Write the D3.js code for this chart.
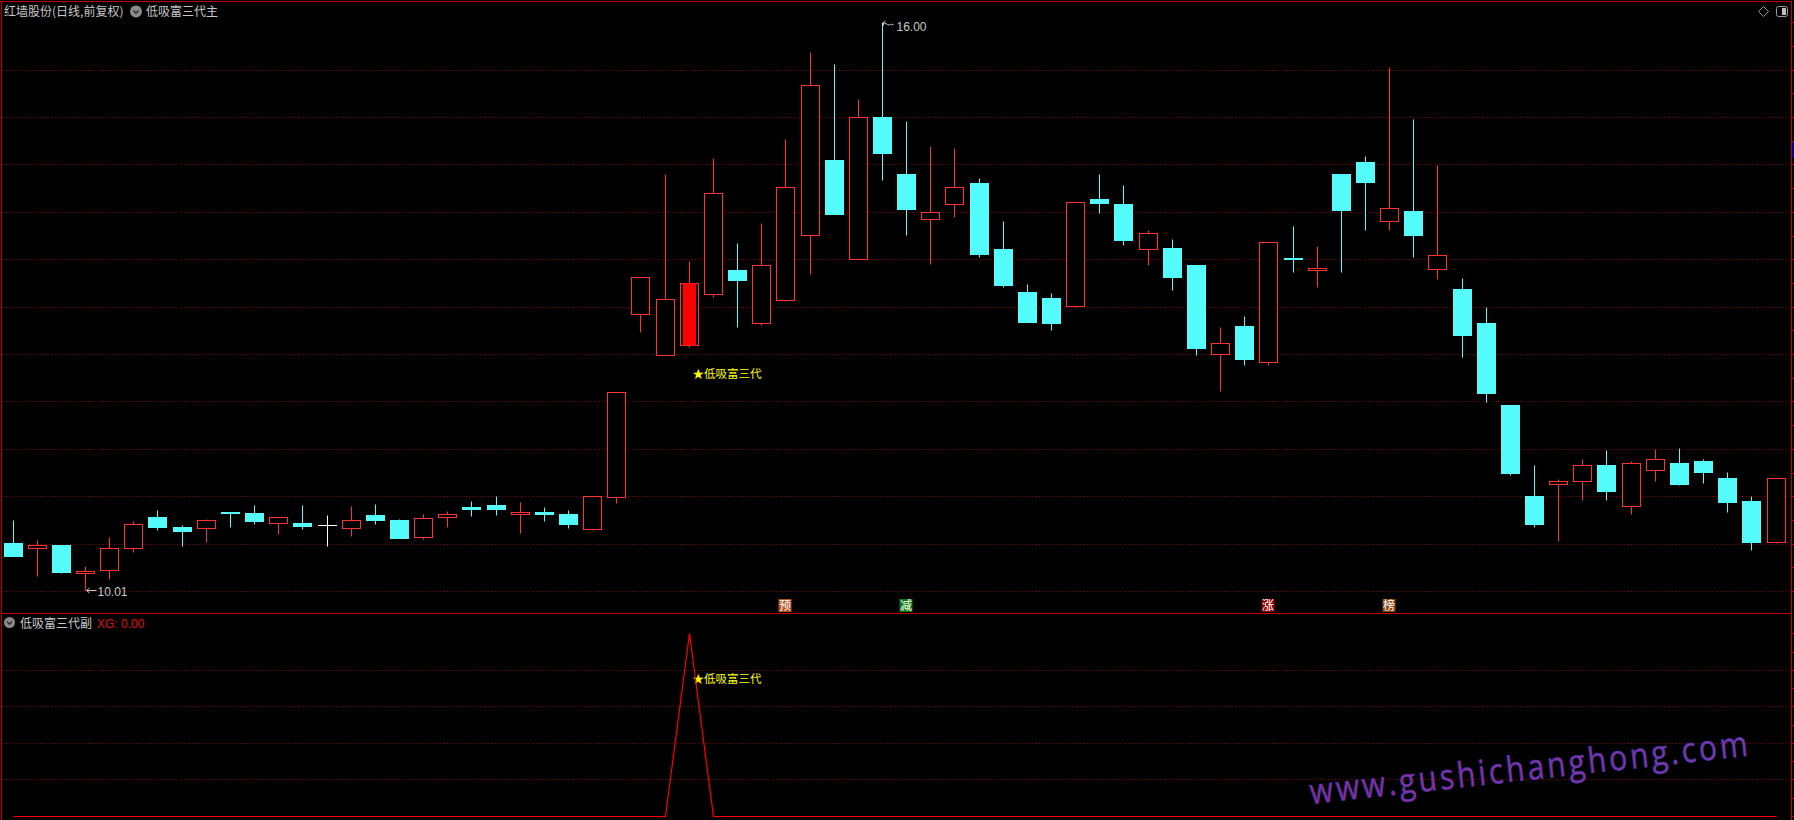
<!DOCTYPE html>
<html><head><meta charset="utf-8">
<script src="https://cdn.jsdelivr.net/npm/d3@7/dist/d3.min.js"></script>
<style>
html,body{margin:0;padding:0;background:#000;overflow:hidden}
svg{display:block}
</style></head><body>
<svg id="c" width="1794" height="820"></svg>
<script>
// ---- data (daily K-line, 74 bars) ----
const openP  = [10.51,10.45,10.49,10.19,10.22,10.45,10.78,10.68,10.66,10.83,10.82,10.72,10.72,10.70,10.66,10.80,10.75,10.57,10.78,10.89,10.91,10.81,10.83,10.81,10.65,10.99,12.92,12.49,12.60,13.13,13.39,12.83,13.07,13.76,14.55,13.50,15.00,14.40,13.92,14.08,14.30,13.61,13.15,13.09,13.01,14.14,14.08,13.61,13.62,13.44,12.50,12.80,12.42,13.51,13.39,14.40,14.53,13.90,14.01,13.40,13.19,12.83,11.96,11.00,11.13,11.16,11.33,10.90,11.28,11.35,11.37,11.19,10.95,10.52];
const highP  = [10.75,10.54,10.49,10.26,10.57,10.74,10.85,10.70,10.76,10.83,10.91,10.78,10.91,10.80,10.90,10.92,10.76,10.81,10.84,10.95,11.00,10.94,10.89,10.85,11.00,12.10,13.31,14.40,13.48,14.57,13.67,13.88,14.77,15.69,15.56,15.19,16.00,14.96,14.69,14.67,14.36,13.90,13.24,13.14,14.10,14.40,14.28,13.81,13.71,13.44,12.79,12.90,13.68,13.85,13.64,14.40,14.59,15.53,14.98,14.49,13.30,13.00,11.96,11.33,11.18,11.39,11.49,11.37,11.50,11.51,11.39,11.26,11.00,11.19];
const lowP   = [10.37,10.16,10.19,10.01,10.13,10.41,10.64,10.47,10.52,10.67,10.71,10.60,10.65,10.47,10.58,10.71,10.56,10.55,10.67,10.79,10.80,10.61,10.74,10.66,10.64,10.93,12.73,12.49,12.57,13.10,12.79,12.81,13.06,13.34,13.98,13.50,14.34,13.76,13.45,13.95,13.52,13.21,12.84,12.75,13.00,13.99,13.65,13.44,13.17,12.49,12.11,12.38,12.38,13.36,13.21,13.37,13.81,13.81,13.52,13.29,12.47,11.99,11.22,10.67,10.53,10.96,10.96,10.81,11.16,11.12,11.14,10.83,10.43,10.51];
const closeP = [10.37,10.49,10.20,10.21,10.45,10.71,10.67,10.63,10.75,10.82,10.74,10.78,10.69,10.70,10.75,10.75,10.56,10.77,10.81,10.87,10.87,10.83,10.81,10.71,11.00,12.10,13.31,13.08,13.25,14.20,13.28,13.44,14.26,15.34,13.98,15.00,14.62,14.03,14.00,14.26,13.56,13.23,12.84,12.83,14.10,14.09,13.70,13.78,13.31,12.56,12.62,12.45,13.68,13.50,13.41,14.02,14.31,14.04,13.76,13.54,12.70,12.09,11.25,10.71,11.16,11.33,11.06,11.35,11.39,11.13,11.26,10.94,10.52,11.19];
// sub indicator XG (低吸富三代副)
const xgValues = [0,0,0,0,0,0,0,0,0,0,0,0,0,0,0,0,0,0,0,0,0,0,0,0,0,0,0,0,1,0,0,0,0,0,0,0,0,0,0,0,0,0,0,0,0,0,0,0,0,0,0,0,0,0,0,0,0,0,0,0,0,0,0,0,0,0,0,0,0,0,0,0,0,0];
// price grid / ticks
const priceGrid = [10.0,10.5,11.0,11.5,12.0,12.5,13.0,13.5,14.0,14.5,15.0,15.5];
const subGrid = [0.2,0.4,0.6,0.8];
// signal tags under bars
const tagIndex = [32,37,52,57];
const tagText  = ["预","减","涨","榜"];
const tagColor = ["#B4501E","#0A7A0A","#8B0000","#8B4513"];
const titleMain = "红墙股份(日线,前复权)";
const titleInd  = "低吸富三代主";
const titleSub  = "低吸富三代副";
const signalLabel = "★低吸富三代";
const watermark = "www.gushichanghong.com";

// ---- drawing ----
const svg = d3.select("#c");
const CJK = "'Noto Sans CJK SC','Noto Sans',sans-serif";
const NUM = "'Liberation Sans',Arial,sans-serif";
const idx = d3.range(openP.length);
const x = d3.scaleBand().domain(idx).range([0.5,1787.6]).paddingInner(0.22).paddingOuter(0.11);
const y = d3.scaleLinear().domain([10,16]).range([591,22.2]);
const ys = d3.scaleLinear().domain([0,1]).range([816,633.3]);
const cx = i => Math.round(x(i) + x.bandwidth()/2) + 0.5;
const py = v => Math.round(y(v)) + 0.5;

svg.append("rect").attr("width",1794).attr("height",820).attr("fill","#000");

const defs = svg.append("defs");
const grad = defs.append("linearGradient").attr("id","wm").attr("x1","0").attr("x2","1").attr("y1","0").attr("y2","0");
grad.append("stop").attr("offset","0").attr("stop-color","#952A92");
grad.append("stop").attr("offset","1").attr("stop-color","#7A38AA");

// grid main
svg.append("g").selectAll("line").data(priceGrid).join("line")
  .attr("x1",3).attr("x2",1789).attr("y1",d=>py(d)).attr("y2",d=>py(d))
  .attr("stroke","#A00000").attr("stroke-dasharray","1,2.7");
// grid sub
svg.append("g").selectAll("line").data(subGrid).join("line")
  .attr("x1",3).attr("x2",1789).attr("y1",d=>Math.round(ys(d))+0.5).attr("y2",d=>Math.round(ys(d))+0.5)
  .attr("stroke","#A00000").attr("stroke-dasharray","1,2.7");

// frame
const frame = svg.append("g").attr("stroke","#C00000").attr("stroke-width",1);
frame.append("line").attr("x1",0).attr("x2",1792).attr("y1",1.5).attr("y2",1.5);
frame.append("line").attr("x1",1.5).attr("x2",1.5).attr("y1",1).attr("y2",820);
frame.append("line").attr("x1",1791.5).attr("x2",1791.5).attr("y1",1).attr("y2",820);
frame.append("line").attr("x1",1.5).attr("x2",1792).attr("y1",613.5).attr("y2",613.5);
// right axis ticks
frame.append("g").selectAll("line").data(d3.range(10,16.001,0.25)).join("line")
  .attr("x1",1791.5).attr("x2",1794).attr("y1",d=>py(d)).attr("y2",d=>py(d));
frame.append("g").selectAll("line").data(d3.range(0,1.001,0.1)).join("line")
  .attr("x1",1791.5).attr("x2",1794).attr("y1",d=>Math.round(ys(d))+0.5).attr("y2",d=>Math.round(ys(d))+0.5);
svg.append("rect").attr("x",1792).attr("y",142).attr("width",2).attr("height",16).attr("fill","#000090");

// candles
const UP="#FF3232", DN="#54FCFC", EQ="#FFFFFF";
const cg = svg.append("g");
idx.forEach(i=>{
  const o=openP[i], c=closeP[i], h=highP[i], l=lowP[i];
  const X=cx(i);
  if (c>o){
    const top=py(c), bot=py(o);
    cg.append("line").attr("x1",X).attr("x2",X).attr("y1",py(h)).attr("y2",top).attr("stroke",UP);
    cg.append("line").attr("x1",X).attr("x2",X).attr("y1",bot).attr("y2",py(l)).attr("stroke",UP);
    cg.append("rect").attr("x",X-9).attr("y",top).attr("width",18).attr("height",Math.max(bot-top,1))
      .attr("fill","#000").attr("stroke",UP);
    if (xgValues[i]>0){
      cg.append("rect").attr("x",X-6.5).attr("y",top).attr("width",13).attr("height",Math.max(bot-top,1)).attr("fill","#FF0000");
    }
  } else if (c<o){
    const top=py(o), bot=py(c);
    cg.append("line").attr("x1",X).attr("x2",X).attr("y1",py(h)).attr("y2",py(l)).attr("stroke",DN);
    cg.append("rect").attr("x",X-9.5).attr("y",top-0.5).attr("width",19).attr("height",Math.max(bot-top+1,1)).attr("fill",DN);
  } else {
    cg.append("line").attr("x1",X).attr("x2",X).attr("y1",py(h)).attr("y2",py(l)).attr("stroke",EQ);
    cg.append("line").attr("x1",X-9.5).attr("x2",X+9.5).attr("y1",py(o)).attr("y2",py(o)).attr("stroke",EQ);
  }
});

// high / low annotations
const iHi = d3.maxIndex(highP), iLo = d3.minIndex(lowP);
const ann = svg.append("g").attr("fill","none").attr("stroke","#C8C8C8").attr("stroke-width",1);
{
  const X=cx(iLo), Y=py(lowP[iLo]);
  ann.append("path").attr("d",`M${X+1},${Y} H${X+11} M${X+1},${Y} l3,-2.5 M${X+1},${Y} l3,2.5`);
  svg.append("text").attr("x",X+12).attr("y",Y+5.5).attr("fill","#C8C8C8").attr("font-family",NUM)
    .attr("font-size",12).text(lowP[iLo].toFixed(2));
}
{
  const X=cx(iHi), Y=py(highP[iHi]);
  ann.append("path").attr("d",`M${X+1},${Y} l2,-1.5 M${X+1},${Y} v3 M${X+1},${Y} l4,2 q2,1 3,0 q1,-1 3,0.5`);
  svg.append("text").attr("x",X+14).attr("y",Y+8.5).attr("fill","#C8C8C8").attr("font-family",NUM)
    .attr("font-size",12).text(highP[iHi].toFixed(2));
}

// signal label in main pane and sub pane
const iSig = xgValues.indexOf(1);
svg.append("text").attr("x",cx(iSig)+3).attr("y",py(lowP[iSig])+30).attr("fill","#FFFF00")
  .attr("font-family",CJK).attr("font-size",11.5).text(signalLabel);
svg.append("text").attr("x",cx(iSig)+3).attr("y",ys(xgValues[iSig])+50).attr("fill","#FFFF00")
  .attr("font-family",CJK).attr("font-size",11.5).text(signalLabel);

// tags
const tg = svg.append("g");
tagIndex.forEach((ti,k)=>{
  const X=cx(ti);
  tg.append("rect").attr("x",X-7).attr("y",599).attr("width",13).attr("height",13).attr("fill",tagColor[k]);
  tg.append("text").attr("x",X-0.5).attr("y",610).attr("text-anchor","middle").attr("fill","#FFFFFF")
    .attr("font-family",CJK).attr("font-size",12).text(tagText[k]);
});

// XG line
svg.append("path").datum(xgValues)
  .attr("d", d3.line().x((d,i)=>cx(i)).y(d=>Math.round(ys(d))+0.5))
  .attr("fill","none").attr("stroke","#FF0000").attr("stroke-width",1.2);

// headers
function icon(g,cxp,cyp,r){
  g.append("circle").attr("cx",cxp).attr("cy",cyp).attr("r",r).attr("fill","#8A8A8A");
  g.append("path").attr("d",`M${cxp-2.5},${cyp-1} L${cxp},${cyp+1.8} L${cxp+2.5},${cyp-1}`)
    .attr("fill","none").attr("stroke","#2A2A2A").attr("stroke-width",1.4);
}
const hd = svg.append("g");
hd.append("text").attr("x",4).attr("y",16).attr("fill","#C8C8C8").attr("font-family",CJK).attr("font-size",12).text(titleMain);
icon(hd,136,11.5,6);
hd.append("text").attr("x",146).attr("y",16).attr("fill","#C8C8C8").attr("font-family",CJK).attr("font-size",12).text(titleInd);
icon(hd,9.5,622.5,5.5);
hd.append("text").attr("x",20).attr("y",628).attr("fill","#C8C8C8").attr("font-family",CJK).attr("font-size",12).text(titleSub);
hd.append("text").attr("x",97).attr("y",628).attr("fill","#E01010").attr("font-family",NUM).attr("font-size",12)
  .text("XG: " + xgValues[xgValues.length-1].toFixed(2));

// top-right icons
hd.append("path").attr("d","M1763.5,6.5 L1768.5,11.5 L1763.5,16.5 L1758.5,11.5 Z").attr("fill","none").attr("stroke","#9A9A9A");
hd.append("rect").attr("x",1776.5).attr("y",6.5).attr("width",11).attr("height",10).attr("rx",2).attr("fill","none").attr("stroke","#9A9A9A");
hd.append("rect").attr("x",1782).attr("y",8).attr("width",4).attr("height",7).attr("fill","#BDBDBD");

// watermark
svg.append("text").attr("transform","translate(1311,804) rotate(-6.3) scale(0.86,1)")
  .attr("font-family","'Open Sans','Noto Sans',sans-serif").attr("font-weight",500).attr("font-size",35)
  .attr("textLength",512).attr("lengthAdjust","spacing")
  .attr("fill","url(#wm)").attr("stroke","#4038B0").attr("stroke-width",0.7)
  .text(watermark);
</script>
</body></html>
